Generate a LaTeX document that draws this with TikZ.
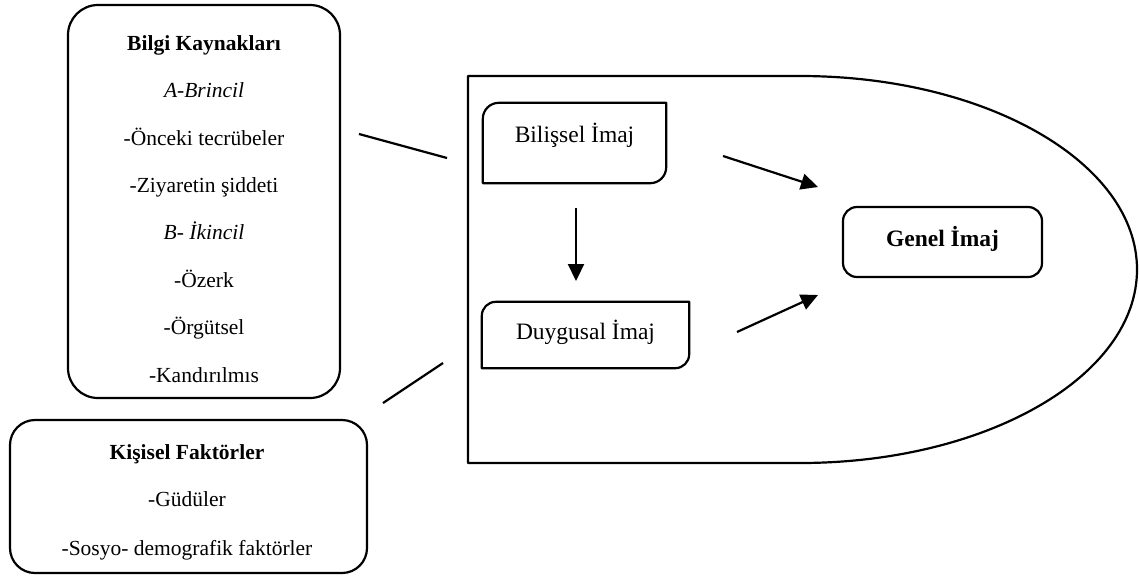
\documentclass[tikz,border=0pt]{standalone}
\usepackage{fontspec}
\setmainfont{Liberation Serif}
\usepackage{tikz}
\usetikzlibrary{arrows.meta}

\begin{document}
\begin{tikzpicture}[x=1pt,y=1pt,
  frame/.style={line width=2.2pt,line join=round},
  arr/.style={-{Triangle[length=17pt,width=16pt]},line width=2.2pt},
  txt/.style={anchor=base,font=\fontsize{21.5}{26}\selectfont},
  imgtxt/.style={anchor=base,font=\fontsize{23.5}{28}\selectfont}]

  \useasboundingbox (0,0) rectangle (1139,-579);

  %% Bilgi kaynaklari
  \node[frame,draw,rounded corners=30pt,minimum width=272pt,minimum height=393pt] (bilgi) at (204,-201.5) {};
  \node[txt] (bilgi0) at (204,-50)  {\textbf{Bilgi Kaynakları}};
  \node[txt] (bilgi1) at (204,-97)  {\textit{A-Brincil}};
  \node[txt] (bilgi2) at (204,-145) {-Önceki tecrübeler};
  \node[txt] (bilgi3) at (204,-192) {-Ziyaretin şiddeti};
  \node[txt] (bilgi4) at (204,-239) {\textit{B- İkincil}};
  \node[txt] (bilgi5) at (204,-287) {-Özerk};
  \node[txt] (bilgi6) at (204,-334) {-Örgütsel};
  \node[txt] (bilgi7) at (204,-382) {-Kandırılmıs};

  %% Kisisel faktorler
  \node[frame,draw,rounded corners=25pt,minimum width=357pt,minimum height=153pt] (kisi) at (188.5,-496.5) {};
  \node[txt] (kisi0) at (187,-459) {\textbf{Kişisel Faktörler}};
  \node[txt] (kisi1) at (187,-506) {-Güdüler};
  \node[txt] (kisi2) at (187,-555) {-Sosyo- demografik faktörler};

  %% Imaj cercevesi
  \draw[frame] (800,-76) -- (468,-76) -- (468,-463) -- (800,-463)
    arc[start angle=-90,end angle=90,x radius=337,y radius=193.5];

  % Bilissel imaj (two corners rounded)
  \node[minimum width=183pt,minimum height=80pt] (bil) at (574.5,-143) {};
  \draw[frame] (bil.south west) -- ([yshift=-16pt]bil.north west)
    arc[start angle=180,end angle=90,radius=16pt]
    -- (bil.north east) -- ([yshift=16pt]bil.south east)
    arc[start angle=0,end angle=-90,radius=16pt] -- cycle;
  \node[imgtxt] (biltxt) at (574.5,-142) {Bilişsel İmaj};

  % Duygusal imaj
  \node[minimum width=207pt,minimum height=66pt] (duy) at (585.5,-335) {};
  \draw[frame] (duy.south west) -- ([yshift=-14pt]duy.north west)
    arc[start angle=180,end angle=90,radius=14pt]
    -- (duy.north east) -- ([yshift=14pt]duy.south east)
    arc[start angle=0,end angle=-90,radius=14pt] -- cycle;
  \node[imgtxt] (duytxt) at (585.5,-339) {Duygusal İmaj};

  % Genel imaj
  \node[frame,draw,rounded corners=14pt,minimum width=199pt,minimum height=70pt] (gen) at (942.5,-242) {};
  \node[imgtxt] (gentxt) at (942.5,-246) {\textbf{Genel İmaj}};

  %% baglantilar
  \coordinate (l1a) at (359,-134);
  \coordinate (l1b) at (447,-158);
  \coordinate (l2a) at (383,-403);
  \coordinate (l2b) at (443,-363);
  \draw[frame] (l1a) -- (l1b);
  \draw[frame] (l2a) -- (l2b);

  \coordinate (a1) at (723,-156);
  \coordinate (a1e) at (818,-187);
  \coordinate (a2) at (737,-332);
  \coordinate (a2e) at (818,-295);
  \coordinate (a3) at (576,-208);
  \coordinate (a3e) at (576,-281);
  \draw[arr] (a1) -- (a1e);
  \draw[arr] (a2) -- (a2e);
  \draw[arr] (a3) -- (a3e);

\end{tikzpicture}
\end{document}
